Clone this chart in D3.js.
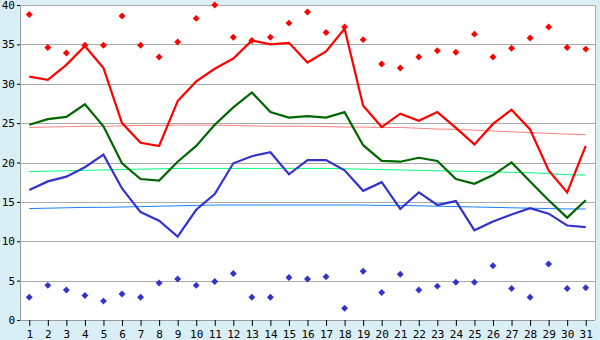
<!DOCTYPE html>
<html>
<head>
<meta charset="utf-8">
<script src="https://cdn.jsdelivr.net/npm/d3@7"></script>
<style>
  body { margin: 0; background: #d9eef5; }
  svg { display: block; }
  text { font-family: "DejaVu Sans Mono", monospace; font-size: 11px; fill: #000; }
</style>
</head>
<body>
<svg></svg>
<script>
let days = d3.range(1, 32)
let yTicks = [0, 5, 10, 15, 20, 25, 30, 35, 40]

let maxLine = [30.9, 30.5, 32.4, 34.8, 32.0, 25.0, 22.5, 22.1, 27.8, 30.3, 31.9, 33.2, 35.5, 35.0, 35.2, 32.7,
               34.1, 37.0, 27.2, 24.5, 26.2, 25.3, 26.4, 24.4, 22.3, 24.9, 26.7, 24.2, 19.0, 16.2, 22.1]
let meanLine = [24.8, 25.5, 25.8, 27.4, 24.6, 19.9, 17.9, 17.7, 20.1, 22.1, 24.8, 27.0, 28.9, 26.4, 25.7, 25.9,
                25.7, 26.4, 22.2, 20.2, 20.1, 20.6, 20.2, 17.9, 17.3, 18.4, 20.0, 17.6, 15.2, 13.0, 15.2]
let minLine = [16.5, 17.6, 18.2, 19.4, 21.0, 16.7, 13.7, 12.6, 10.6, 14.0, 16.0, 19.9, 20.8, 21.3, 18.5, 20.3,
               20.3, 19.0, 16.4, 17.5, 14.1, 16.2, 14.6, 15.1, 11.4, 12.5, 13.4, 14.2, 13.5, 12.0, 11.8]
let maxPoints = [38.8, 34.6, 33.9, 34.9, 34.9, 38.6, 34.9, 33.4, 35.3, 38.3, 40.0, 35.9, 35.5, 35.9, 37.7, 39.1,
                 36.5, 37.2, 35.6, 32.5, 32.0, 33.4, 34.2, 34.0, 36.3, 33.4, 34.5, 35.8, 37.2, 34.6, 34.4]
let minPoints = [2.9, 4.4, 3.8, 3.1, 2.4, 3.3, 2.9, 4.7, 5.2, 4.4, 4.9, 5.9, 2.9, 2.9, 5.4, 5.2,
                 5.5, 1.5, 6.2, 3.5, 5.8, 3.8, 4.3, 4.8, 4.8, 6.9, 4.0, 2.9, 7.1, 4.0, 4.1]
let maxNormal = [24.45, 24.5, 24.55, 24.6, 24.6, 24.65, 24.7, 24.7, 24.75, 24.75, 24.75, 24.7, 24.65, 24.6, 24.6, 24.6,
                 24.55, 24.5, 24.5, 24.45, 24.45, 24.35, 24.25, 24.2, 24.1, 24.0, 23.9, 23.8, 23.7, 23.6, 23.55]
let meanNormal = [18.85, 18.9, 18.95, 19.0, 19.05, 19.1, 19.15, 19.2, 19.25, 19.25, 19.25, 19.25, 19.25, 19.25, 19.25, 19.25,
                  19.25, 19.2, 19.15, 19.1, 19.05, 19.0, 18.95, 18.9, 18.85, 18.8, 18.75, 18.7, 18.6, 18.45, 18.4]
let minNormal = [14.15, 14.2, 14.25, 14.3, 14.3, 14.35, 14.4, 14.45, 14.5, 14.55, 14.6, 14.6, 14.6, 14.6, 14.6, 14.6,
                 14.6, 14.6, 14.6, 14.55, 14.55, 14.5, 14.45, 14.4, 14.35, 14.3, 14.25, 14.2, 14.15, 14.1, 14.1]

let width = 600
let height = 340
let mLeft = 20, mRight = 595, mTop = 5, mBottom = 320

let svg = d3.select('svg').attr('width', width).attr('height', height)

let x = d3.scalePoint().domain(days).range([mLeft, mRight]).padding(0.5)
let y = d3.scaleLinear().domain([0, 40]).range([mBottom, mTop])

// plot area
svg.append('rect')
   .attr('x', mLeft).attr('y', mTop)
   .attr('width', mRight - mLeft).attr('height', mBottom - mTop)
   .attr('fill', '#fff')

// grid
svg.append('g')
   .selectAll('line')
   .data(yTicks.slice(1))
   .join('line')
   .attr('x1', mLeft).attr('x2', mRight)
   .attr('y1', d => Math.round(y(d)) + 0.5).attr('y2', d => Math.round(y(d)) + 0.5)
   .attr('stroke', '#aaa')

// border top/right
svg.append('path')
   .attr('d', `M${mLeft},${mTop + 0.5}H${mRight + 0.5}V${mBottom}`)
   .attr('fill', 'none').attr('stroke', '#aaa')

let drawLine = (vals, color, w) => {
    let line = d3.line().x((d, i) => x(days[i])).y(d => y(d))
    svg.append('path')
       .datum(vals)
       .attr('d', line)
       .attr('fill', 'none')
       .attr('stroke', color)
       .attr('stroke-width', w)
}

drawLine(maxNormal, '#ff8080', 1)
drawLine(meanNormal, '#00ff80', 1)
drawLine(minNormal, '#1a80ff', 1)
drawLine(maxLine, '#ff0000', 2.2)
drawLine(meanLine, '#006600', 2.2)
drawLine(minLine, '#3333cc', 2.2)

let drawPoints = (vals, color) => {
    svg.append('g')
       .selectAll('path')
       .data(vals)
       .join('path')
       .attr('transform', (d, i) => `translate(${x(days[i])},${y(d)}) rotate(45)`)
       .attr('d', d3.symbol(d3.symbolSquare, 24))
       .attr('fill', color)
}

drawPoints(maxPoints, '#ff0000')
drawPoints(minPoints, '#3333cc')

// axes
let yAxis = d3.axisLeft(y).tickValues(yTicks).tickSize(3).tickPadding(2)
let gy = svg.append('g').attr('transform', `translate(${mLeft},0)`).call(yAxis)
gy.selectAll('line').attr('stroke', '#000')
gy.select('.domain').attr('stroke', '#999').attr('d', `M0.5,${mTop}V${mBottom}`)
gy.selectAll('text').style('font-family', '"DejaVu Sans Mono", monospace').style('font-size', '11px')

let xAxis = d3.axisBottom(x).tickSize(6).tickPadding(4)
let gx = svg.append('g').attr('transform', `translate(0,${mBottom})`).call(xAxis)
gx.selectAll('line').attr('stroke', '#000')
gx.select('.domain').attr('stroke', '#999').attr('d', `M${mLeft},0.5H${mRight}`)
gx.selectAll('text').style('font-family', '"DejaVu Sans Mono", monospace').style('font-size', '11px')
</script>
</body>
</html>
